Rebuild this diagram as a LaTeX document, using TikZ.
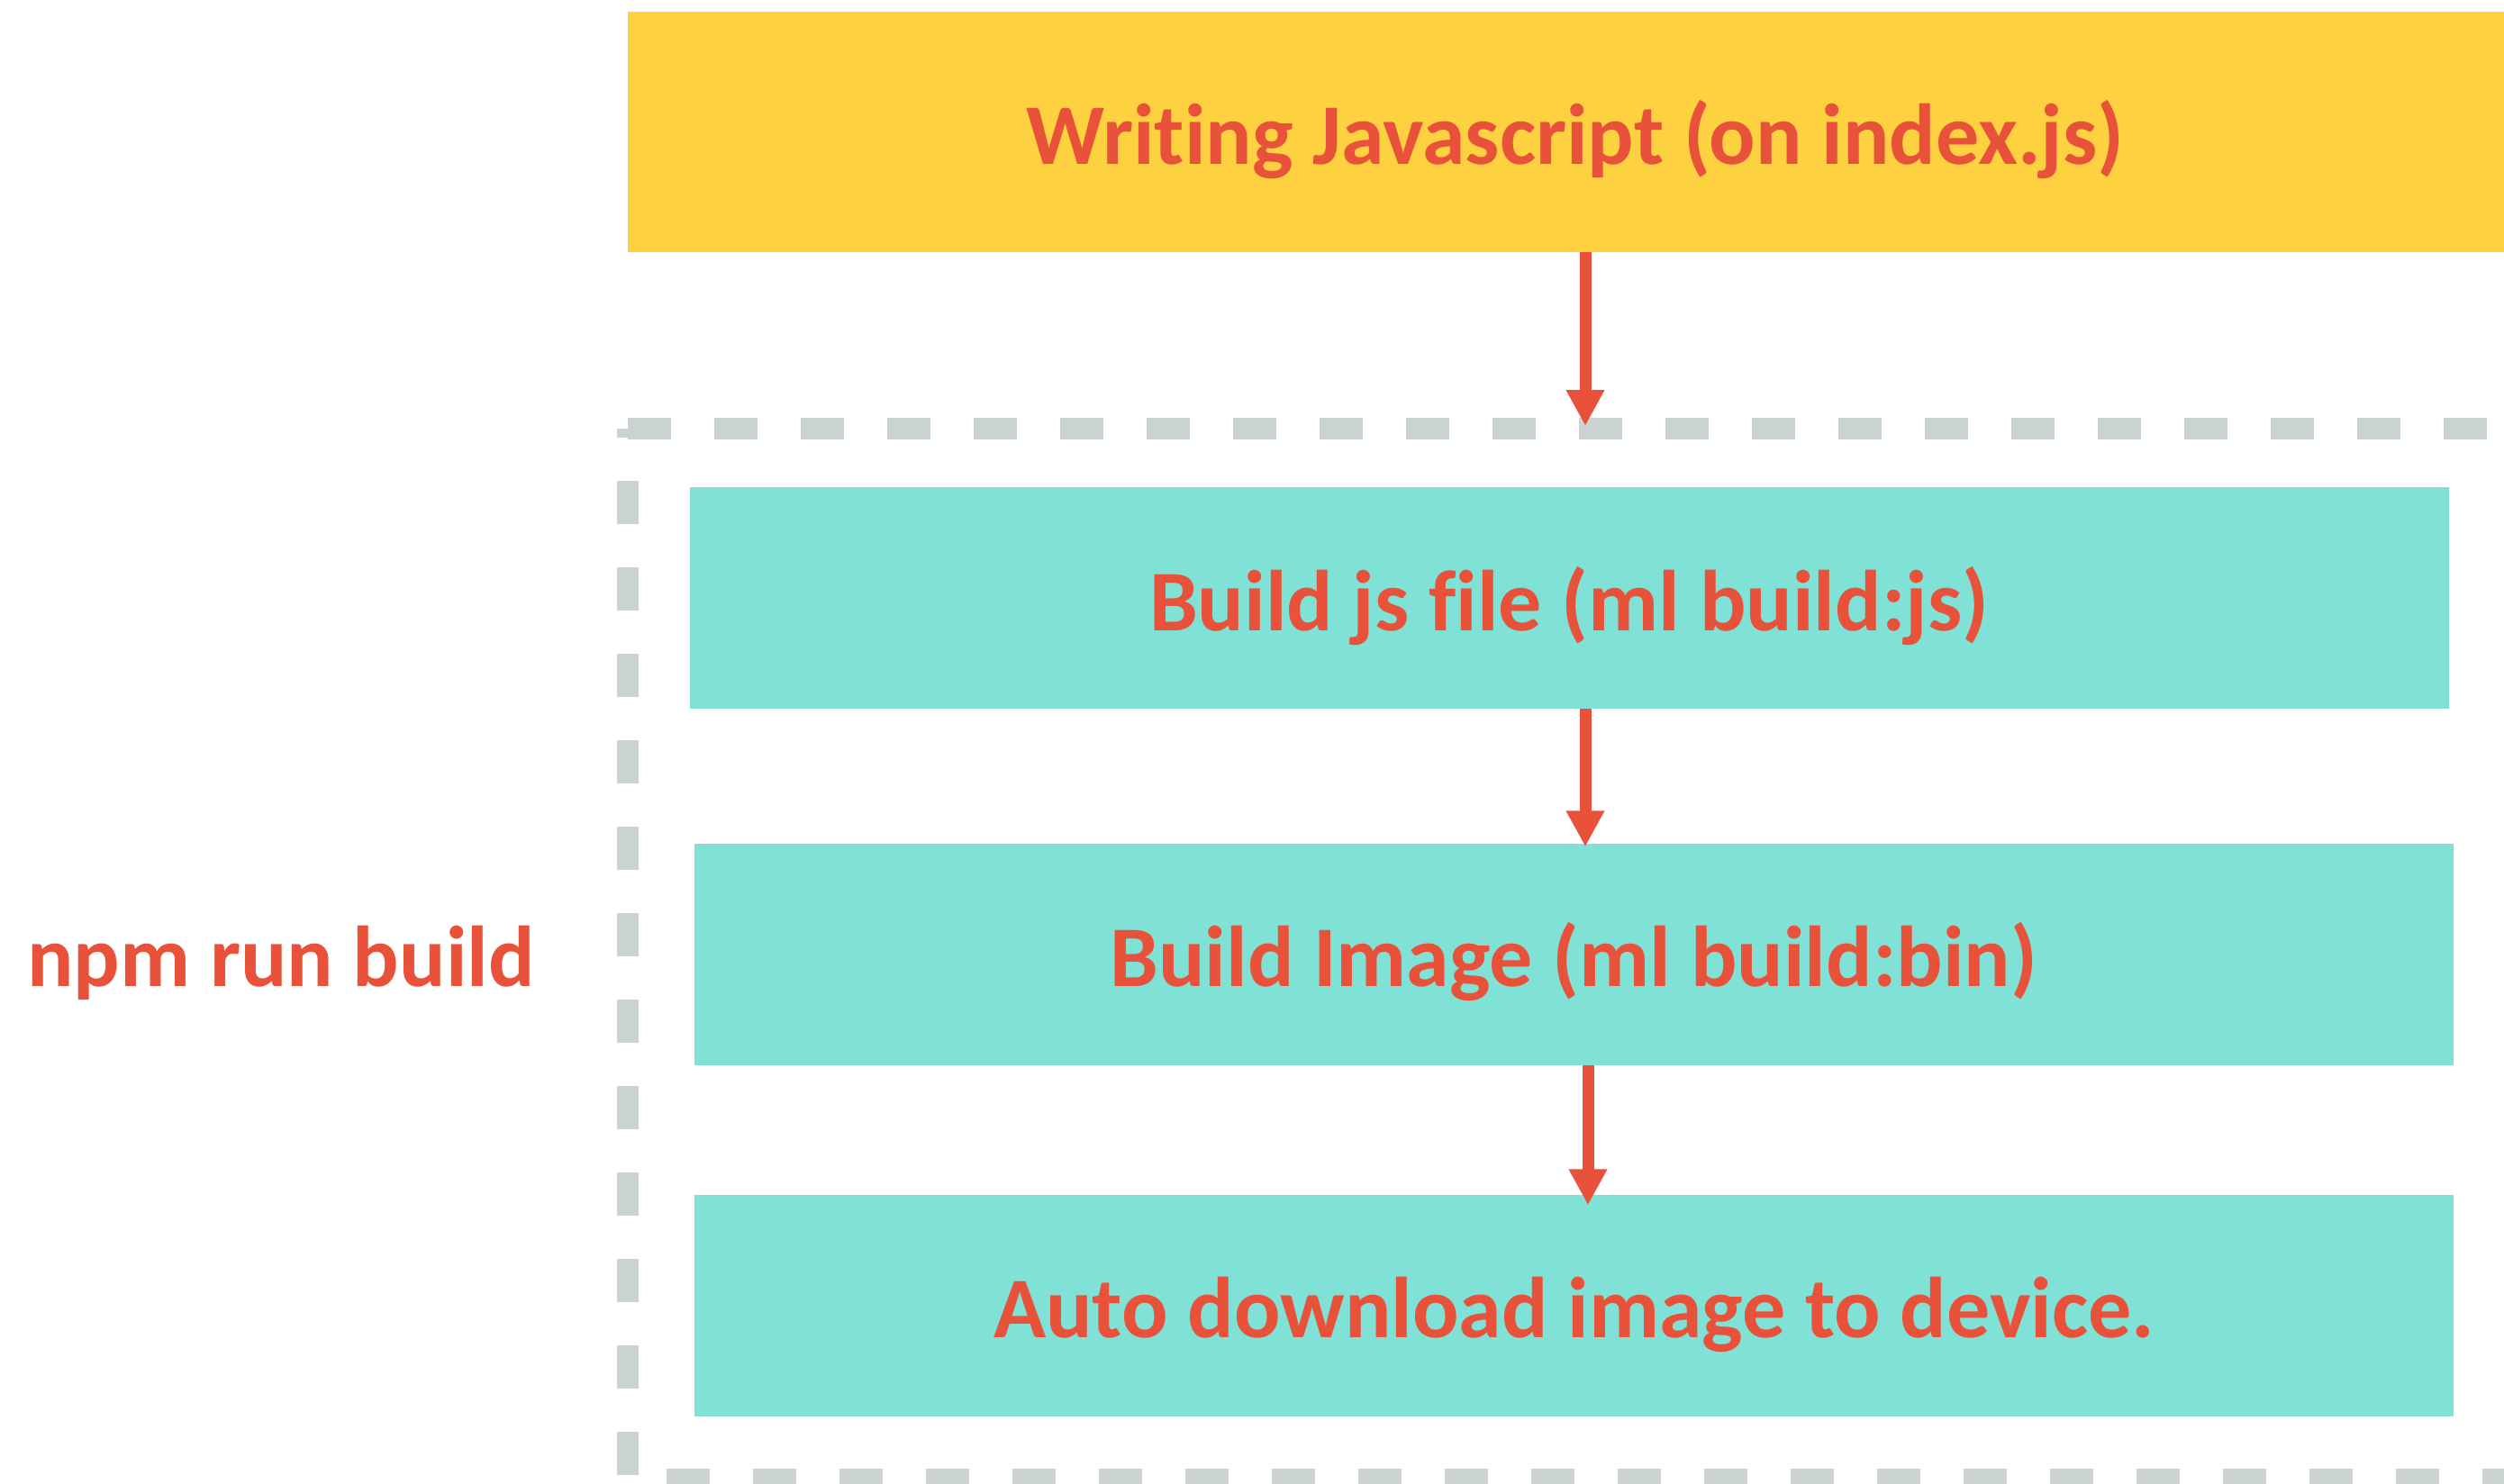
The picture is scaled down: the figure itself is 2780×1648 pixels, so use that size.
\documentclass[tikz,border=0pt]{standalone}
\usepackage{fontspec}
\setmainfont{Carlito}[Ligatures={NoCommon,NoContextual}, RawFeature={-liga;-clig;-dlig}]
\usetikzlibrary{arrows.meta}

\definecolor{sun}{HTML}{FED141}
\definecolor{aqua}{HTML}{80E2D6}
\definecolor{brick}{HTML}{E8523A}
\definecolor{framegray}{HTML}{CBD3D2}

\begin{document}
\begin{tikzpicture}[x=1pt, y=-1pt,
  every node/.style={font=\fontsize{96}{115}\selectfont\bfseries, text=brick, inner sep=0pt},
  boxbase/.style={minimum height=246pt, text height=76pt, text depth=4pt},
  topbox/.style={boxbase, fill=sun, minimum width=2104pt, minimum height=267pt},
  stepbox/.style={boxbase, fill=aqua, minimum width=1953pt},
  frameline/.style={draw=framegray, line width=24pt, dash pattern=on 48pt off 48pt},
  link/.style={draw=brick, line width=13pt, -{Triangle[width=40pt,length=40pt]}}
]
\useasboundingbox (0,0) rectangle (2780,1648);

% dashed frame around the build steps
\coordinate (fTL) at (697,476);
\coordinate (fBL) at (697,1643);
\coordinate (fTR) at (2810,476);
\coordinate (fBR) at (2810,1643);
\draw[frameline] (fTL) -- (fTR);
\draw[frameline, dash phase=38pt] (fTL) -- (697,1670);
\draw[frameline, dash phase=53pt] (fBL) -- (fBR);

% boxes
\node[topbox]  (top) at (1749,146.5) {Writing Javascript (on index.js)};
\node[stepbox] (b1)  at (1742,664)   {Build js file (ml build:js)};
\node[stepbox] (b2)  at (1747,1059.5){Build Image (ml build:bin)};
\node[stepbox] (b3)  at (1747.5,1449.5){Auto download image to device.};

% side label
\node[anchor=base west] (npm) at (30,1095) {npm run build};

% connectors
\coordinate (axA) at (1760,0);
\coordinate (axB) at (1763,0);
\draw[link, shorten >=3pt]   (top.south -| axA) -- (fTL -| axA);
\draw[link, shorten >=-4pt]  (b1.south -| axA)  -- (b2.north -| axA);
\draw[link, shorten >=-12pt] (b2.south -| axB)  -- (b3.north -| axB);
\end{tikzpicture}
\end{document}
